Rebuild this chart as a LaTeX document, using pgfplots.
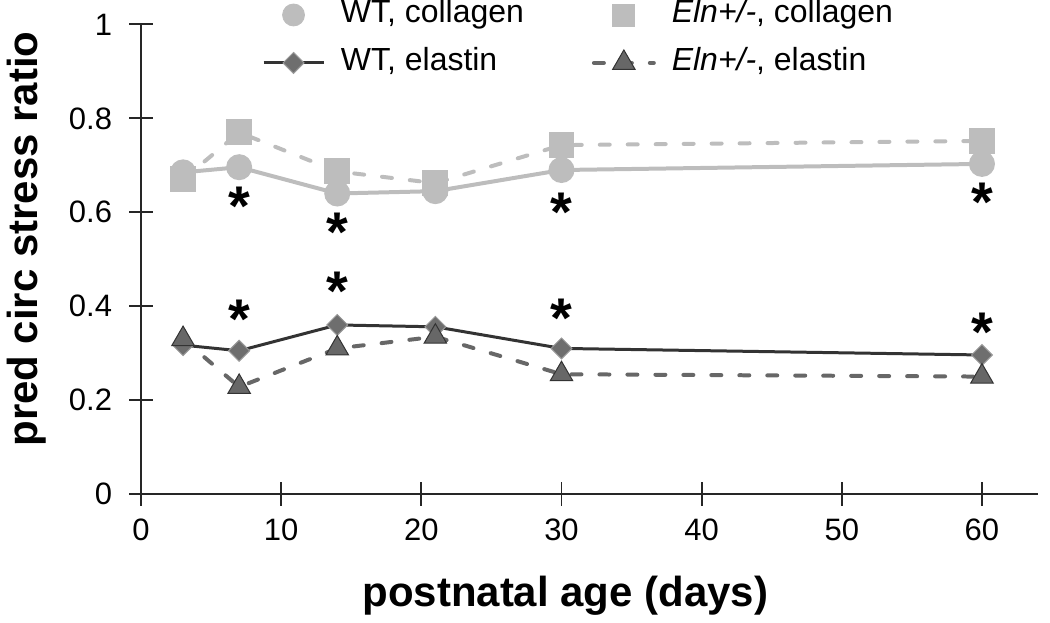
\documentclass[border=0pt]{standalone}
\usepackage{fontspec}
\setmainfont{Liberation Sans}
\usepackage{pgfplots}
\pgfplotsset{compat=1.18}
\definecolor{lightg}{HTML}{BDBDBD}
\definecolor{darkl}{HTML}{333333}
\definecolor{diam}{HTML}{6E6E6E}
\definecolor{tri}{HTML}{676767}
\pgfplotsset{
  markonlylegend/.style={legend image code/.code={\path (0pt,0pt) (30pt,0pt); \draw[##1] plot[only marks] coordinates {(15pt,0pt)};}},
}
\begin{document}
\begin{tikzpicture}
\begin{axis}[
  scale only axis, width=449pt, height=235pt,
  xmin=0, xmax=64, ymin=0, ymax=1,
  clip=false,
  axis x line=bottom, axis y line=left,
  axis line style={-, line width=1pt, black!85},
  xtick={0,10,20,30,40,50,60}, ytick={0,0.2,0.4,0.6,0.8,1},
  yticklabels={0,0.2,0.4,0.6,0.8,1},
  tick align=center, major tick length=12pt,
  tick style={line width=1pt, black!85},
  /pgf/number format/assume math mode=true,
  tick label style={font=\fontsize{15.5}{18}\selectfont},
  xticklabel style={yshift=-3pt},
  yticklabel style={xshift=-5pt},
  xlabel={postnatal age (days)}, ylabel={pred circ stress ratio},
  label style={font=\fontsize{21}{24}\selectfont\bfseries},
  xlabel style={at={(axis description cs:0.473,-0.217)}, anchor=center},
  ylabel style={at={(axis description cs:-0.128,0.543)}, anchor=center},
  legend columns=2,
  legend style={draw=none, fill=none, inner sep=0pt,
    at={(axis description cs:0.1345,1.053)}, anchor=north west,
    font=\fontsize{16}{18}\selectfont,
    nodes={inner xsep=8pt, inner ysep=0pt, text height=11.5pt, text depth=3.5pt},
    row sep=9pt,
    /tikz/every even column/.append style={column sep=26pt}},
  legend cell align=left,
  legend image code/.code={\draw[mark repeat=2, mark phase=2, #1] plot coordinates {(0pt,0pt)(15pt,0pt)(30pt,0pt)};},
]
\addlegendimage{markonlylegend, mark=*, mark size=5.5pt, color=lightg, fill=lightg}
\addlegendentry{WT, collagen}
\addlegendimage{markonlylegend, mark=square*, mark size=5.5pt, color=lightg, fill=lightg}
\addlegendentry{\textit{Eln+/-}, collagen}
\addlegendimage{darkl, line width=1.5pt, mark=square*, mark size=3.7pt, mark options={rotate=45, fill=diam, draw=gray!80, line width=0.5pt}}
\addlegendentry{WT, elastin}
\addlegendimage{tri, line width=2pt, dash pattern=on 5pt off 9pt, line cap=round, mark=triangle*, mark size=6.5pt, mark options={solid, fill=tri, draw=darkl, line width=0.5pt}}
\addlegendentry{\textit{Eln+/-}, elastin}

% Eln+/- collagen
\addplot[forget plot, lightg, line width=2pt, dash pattern=on 5pt off 9pt, line cap=round, mark=square*, mark size=5.5pt, mark options={solid, fill=lightg, draw=lightg}]
coordinates {(3,0.670)(7,0.770)(14,0.687)(21,0.662)(30,0.743)(60,0.752)};
% WT collagen
\addplot[forget plot, lightg, line width=2pt, mark=*, mark size=5.5pt, mark options={fill=lightg, draw=lightg}]
coordinates {(3,0.685)(7,0.696)(14,0.640)(21,0.645)(30,0.690)(60,0.703)};
% WT elastin
\addplot[forget plot, darkl, line width=1.5pt, mark=square*, mark size=3.7pt, mark options={rotate=45, fill=diam, draw=gray!80, line width=0.5pt}]
coordinates {(3,0.317)(7,0.305)(14,0.360)(21,0.356)(30,0.310)(60,0.296)};
% Eln+/- elastin
\addplot[forget plot, tri, line width=2pt, dash pattern=on 5pt off 9pt, line cap=round, mark=triangle*, mark size=6.5pt, mark options={solid, fill=tri, draw=darkl, line width=0.5pt}]
coordinates {(3,0.330)(7,0.228)(14,0.310)(21,0.335)(30,0.255)(60,0.250)};
% significance asterisks
\addplot[forget plot, draw=none, mark=none, nodes near coords={*},
  every node near coord/.append style={anchor=center, inner sep=0pt, yshift=-3.5pt, font=\fontsize{28}{28}\selectfont\bfseries}]
coordinates {(7,0.628)(7,0.387)(14,0.572)(14,0.447)(30,0.615)(30,0.389)(60,0.636)(60,0.360)};
\path (rel axis cs:1,0) ++(6pt,0pt);
\end{axis}
\end{tikzpicture}
\end{document}
